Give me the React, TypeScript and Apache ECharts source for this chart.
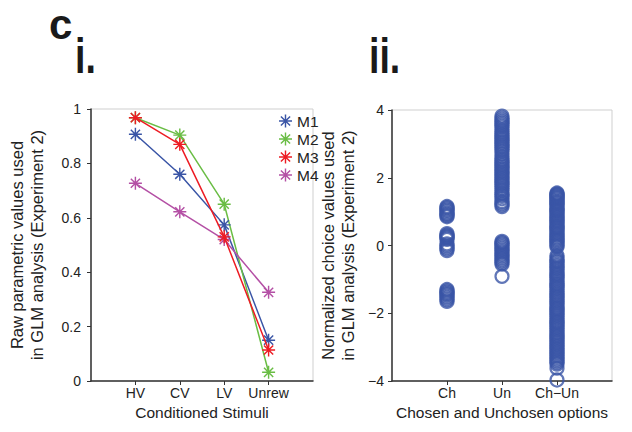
import React, { useEffect, useRef } from "react";
import * as echarts from "echarts";

const stimuli = ["HV", "CV", "LV", "Unrew"];
const monkeys = ["M1", "M2", "M3", "M4"];
const m1 = [0.907, 0.76, 0.574, 0.15];
const m2 = [0.968, 0.904, 0.65, 0.032];
const m3 = [0.968, 0.87, 0.53, 0.114];
const m4 = [0.727, 0.622, 0.52, 0.326];
const monkeyColors = ["#3a55a6", "#6abd45", "#ed1c24", "#b450a5"];

const options2 = ["Ch", "Un", "Ch\u2212Un"];
const chValues = [1.15, 1.12, 1.08, 1.04, 1.0, 0.95, 0.92, 0.88, 0.85, 0.35, 0.31, 0.28, 0.25, 0.22, 0.18, 0.05, 0.0, -0.05, -0.1, -0.15, -1.3, -1.34, -1.38, -1.42, -1.45, -1.5, -1.55, -1.6, -1.65];
const unValues = [3.82, 3.76, 3.7, 3.65, 3.6, 3.55, 3.5, 3.42, 3.36, 3.3, 3.25, 3.2, 3.15, 3.1, 3.05, 3.0, 2.95, 2.9, 2.84, 2.78, 2.7, 2.62, 2.55, 2.5, 2.45, 2.4, 2.35, 2.3, 2.25, 2.2, 2.15, 2.1, 2.05, 2.0, 1.95, 1.9, 1.85, 1.8, 1.75, 1.68, 1.62, 1.55, 1.5, 1.45, 1.38, 1.3, 1.25, 1.2, 1.15, 0.12, 0.08, 0.05, 0.0, -0.05, -0.1, -0.15, -0.2, -0.25, -0.3, -0.35, -0.4, -0.45, -0.5, -0.55, -0.91];
const chUnValues = [1.55, 1.52, 1.5, 1.47, 1.44, 1.41, 1.38, 1.34, 1.3, 1.27, 1.24, 1.2, 1.15, 1.1, 1.06, 1.03, 1.0, 0.95, 0.9, 0.86, 0.82, 0.78, 0.74, 0.7, 0.66, 0.6, 0.56, 0.53, 0.5, 0.45, 0.4, 0.35, 0.31, 0.26, 0.22, 0.18, 0.14, 0.1, 0.05, 0.0, -0.04, -0.3, -0.36, -0.42, -0.46, -0.5, -0.56, -0.61, -0.66, -0.7, -0.76, -0.82, -0.86, -0.9, -0.95, -1.0, -1.06, -1.12, -1.16, -1.2, -1.25, -1.3, -1.36, -1.41, -1.46, -1.5, -1.55, -1.6, -1.65, -1.7, -1.76, -1.82, -1.86, -1.9, -1.95, -2.0, -2.05, -2.1, -2.16, -2.22, -2.26, -2.3, -2.35, -2.4, -2.45, -2.5, -2.56, -2.61, -2.66, -2.7, -2.75, -2.8, -2.85, -2.9, -2.95, -3.0, -3.05, -3.1, -3.15, -3.2, -3.25, -3.3, -3.35, -3.4, -3.45, -3.5, -3.62, -3.97];

const STAR =
  "path://M0 8.9H20V11.1H0Z M8.9 0H11.1V20H8.9Z M3.71 2.15L17.85 16.29L16.29 17.85L2.15 3.71Z M17.85 3.71L3.71 17.85L2.15 16.29L16.29 2.15Z";

const FONT = '"Liberation Sans", Arial, sans-serif';
const TXT = "#222";
const AXIS = "#333";
const BLUE = "#3a55a6";

export default function App() {
  const ref = useRef<HTMLDivElement>(null);
  useEffect(() => {
    document.body.style.margin = "0";
    const chart = echarts.init(ref.current!, null, { renderer: "svg" });
    const lineSeries = [m1, m2, m3, m4].map((vals, k) => ({
      name: monkeys[k],
      type: "line",
      xAxisIndex: 0,
      yAxisIndex: 0,
      data: vals.map((v, i) => [i + 1, v]),
      symbol: STAR,
      symbolSize: 13,
      lineStyle: { width: 1.5, color: monkeyColors[k] },
      itemStyle: { color: monkeyColors[k] },
      z: 3 + (k === 2 ? 1 : 0),
    }));
    const mkScatter = (vals: number[], x: number) => ({
      type: "scatter",
      xAxisIndex: 1,
      yAxisIndex: 1,
      data: vals.map((v) => [x, v]),
      symbol: "circle",
      symbolSize: 13,
      itemStyle: { color: "rgba(0,0,0,0)", borderColor: BLUE, borderWidth: 2.2 },
    });
    const axisCommon = {
      axisLine: { show: true, onZero: false, lineStyle: { color: AXIS, width: 1.5 } },
      axisTick: { show: true, length: 4, inside: false, lineStyle: { color: AXIS } },
      splitLine: { show: false },
    };
    const xNameText = { fontFamily: FONT, fontSize: 15.5, color: TXT };
    const yNameText = { fontFamily: FONT, fontSize: 16.5, color: TXT, lineHeight: 20 };
    chart.setOption({
      animation: false,
      textStyle: { fontFamily: FONT },
      grid: [
        { left: 91, top: 109, width: 222, height: 272, show: true, borderColor: "#cfcfcf", borderWidth: 1 },
        { left: 392, top: 110, width: 220, height: 271, show: true, borderColor: "#cfcfcf", borderWidth: 1 },
      ],
      legend: {
        data: monkeys,
        orient: "vertical",
        left: 274,
        top: 108,
        itemWidth: 13,
        itemHeight: 13,
        itemGap: 2,
        icon: STAR,
        textStyle: { fontFamily: FONT, fontSize: 15.5, color: TXT },
      },
      xAxis: [
        {
          type: "value",
          gridIndex: 0,
          min: 0,
          max: 5,
          interval: 1,
          ...axisCommon,
          axisTick: { ...axisCommon.axisTick, customValues: [1, 2, 3, 4] },
          axisLabel: {
            customValues: [1, 2, 3, 4],
            formatter: (v: number) => stimuli[v - 1] ?? "",
            fontFamily: FONT,
            fontSize: 14,
            color: TXT,
            margin: 5,
          },
          name: "Conditioned Stimuli",
          nameLocation: "middle",
          nameGap: 19,
          nameTextStyle: xNameText,
        },
        {
          type: "value",
          gridIndex: 1,
          min: 0,
          max: 4,
          interval: 1,
          ...axisCommon,
          axisTick: { ...axisCommon.axisTick, customValues: [1, 2, 3] },
          axisLabel: {
            customValues: [1, 2, 3],
            formatter: (v: number) => options2[v - 1] ?? "",
            fontFamily: FONT,
            fontSize: 14,
            color: TXT,
            margin: 5,
          },
          name: "Chosen and Unchosen options",
          nameLocation: "middle",
          nameGap: 19,
          nameTextStyle: xNameText,
        },
      ],
      yAxis: [
        {
          type: "value",
          gridIndex: 0,
          min: 0,
          max: 1,
          interval: 0.2,
          ...axisCommon,
          axisLabel: { fontFamily: FONT, fontSize: 14, color: TXT, margin: 10 },
          name: "Raw parametric values used\nin GLM analysis (Experiment 2)",
          nameLocation: "middle",
          nameGap: 44,
          nameTextStyle: yNameText,
        },
        {
          type: "value",
          gridIndex: 1,
          min: -4,
          max: 4,
          interval: 2,
          ...axisCommon,
          axisLabel: {
            fontFamily: FONT,
            fontSize: 14,
            color: TXT,
            margin: 8,
            formatter: (v: number) => String(v).replace("-", "\u2212"),
          },
          name: "Normalized choice values used\nin GLM analysis (Experiment 2)",
          nameLocation: "middle",
          nameGap: 34,
          nameTextStyle: yNameText,
        },
      ],
      graphic: [
        {
          type: "text",
          x: 49,
          y: 24,
          style: { text: "c", x: 0, y: 0, font: `bold 42px ${FONT}`, fill: "#1a1a1a", verticalAlign: "middle", align: "left" },
        },
        {
          type: "text",
          x: 75,
          y: 55,
          scaleX: 0.75,
          style: { text: "i.", x: 0, y: 0, font: `bold 50px ${FONT}`, fill: "#1a1a1a", verticalAlign: "middle", align: "left" },
        },
        {
          type: "text",
          x: 369,
          y: 55,
          scaleX: 0.75,
          style: { text: "ii.", x: 0, y: 0, font: `bold 50px ${FONT}`, fill: "#1a1a1a", verticalAlign: "middle", align: "left" },
        },
      ],
      series: [
        ...lineSeries,
        mkScatter(chValues, 1),
        mkScatter(unValues, 2),
        mkScatter(chUnValues, 3),
      ],
    });
    return () => chart.dispose();
  }, []);
  return <div ref={ref} style={{ width: 632, height: 432 }} />;
}
